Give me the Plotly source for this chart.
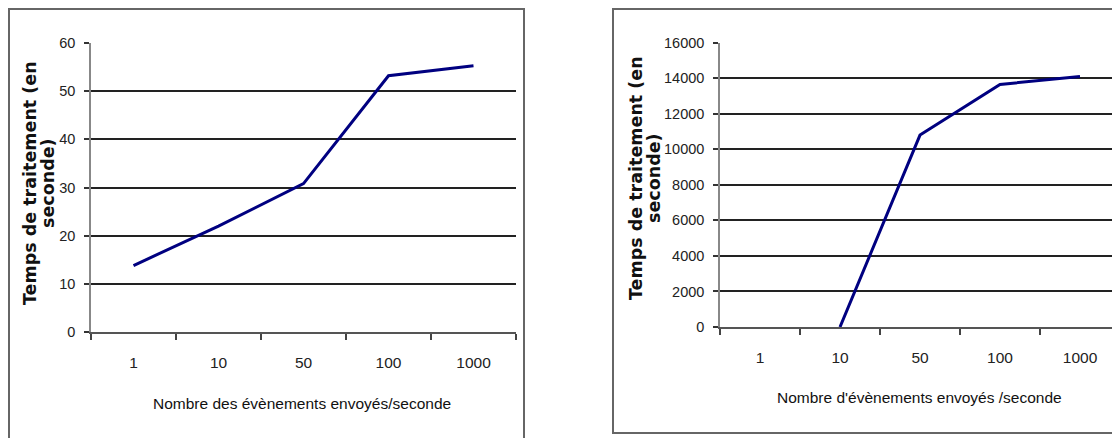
import plotly.graph_objects as go

# Catégories de l'axe X (nombre d'évènements par seconde)
categories = ["1", "10", "50", "100", "1000"]

# Temps de traitement (en seconde)
temps_gauche = [13.8, 22.0, 30.8, 53.2, 55.3]
temps_droite = [None, 0, 10800, 13650, 14100]

ticks_gauche = [0, 10, 20, 30, 40, 50, 60]
ticks_droite = [0, 2000, 4000, 6000, 8000, 10000, 12000, 14000, 16000]

titre_x_gauche = "Nombre des évènements envoyés/seconde"
titre_x_droite = "Nombre d'évènements envoyés /seconde"
titre_y = ["Temps de traitement (en", "seconde)"]

W, H = 1120, 438
# la page ajoute une marge de 8 px autour de la figure
DECALAGE = 8
POLICE = "Liberation Sans, Arial, sans-serif"
POLICE_TITRE = "DejaVu Sans, Arial, sans-serif"


def px_x(v):
    return (v - DECALAGE) / W


def px_y(v):
    return 1 - (v - DECALAGE) / H


def axe_x(domaine, ancre):
    return dict(
        domain=domaine,
        anchor=ancre,
        type="category",
        categoryorder="array",
        categoryarray=categories,
        range=[-0.5, 4.5],
        tickson="boundaries",
        ticks="outside",
        ticklen=6,
        tickwidth=1.5,
        tickcolor="#444",
        showline=True,
        linecolor="#555",
        linewidth=2,
        showgrid=False,
        zeroline=False,
        automargin=False,
        ticklabelstandoff=15,
        tickfont=dict(family=POLICE, size=15.5, color="#222"),
    )


def axe_y(domaine, ancre, valeurs):
    return dict(
        domain=domaine,
        anchor=ancre,
        range=[valeurs[0], valeurs[-1]],
        tickvals=valeurs,
        tickformat="d",
        ticks="outside",
        ticklen=5,
        tickwidth=1.5,
        tickcolor="#333",
        showline=True,
        linecolor="#888",
        linewidth=1.5,
        showgrid=False,
        zeroline=False,
        automargin=False,
        ticklabelstandoff=6,
        tickfont=dict(family=POLICE, size=14.5, color="#222"),
        minor=dict(
            tickvals=valeurs[1:-1],
            showgrid=True,
            gridcolor="#222",
            gridwidth=1.5,
            ticks="",
        ),
    )


def main():
    fig = go.Figure()

    fig.add_trace(
        go.Scatter(
            x=categories, y=temps_gauche, mode="lines",
            line=dict(color="#000080", width=3),
            xaxis="x", yaxis="y", showlegend=False,
        )
    )
    fig.add_trace(
        go.Scatter(
            x=categories, y=temps_droite, mode="lines",
            line=dict(color="#000080", width=3),
            xaxis="x2", yaxis="y2", showlegend=False, connectgaps=False,
        )
    )

    annotations = []
    # Titres des axes Y (deux lignes, texte vertical en gras)
    for cx, cy in [(30, 183), (636, 178)]:
        for i, ligne in enumerate(titre_y):
            annotations.append(dict(
                text="<b>" + ligne + "</b>", xref="paper", yref="paper",
                x=px_x(cx + i * 18), y=px_y(cy), textangle=-90,
                showarrow=False, xanchor="center", yanchor="middle",
                font=dict(family=POLICE_TITRE, size=17.5, color="#111"),
            ))
    # Titres des axes X
    for texte, cx, cy in [(titre_x_gauche, 302, 403), (titre_x_droite, 919, 397)]:
        annotations.append(dict(
            text=texte, xref="paper", yref="paper",
            x=px_x(cx), y=px_y(cy), showarrow=False,
            xanchor="center", yanchor="middle",
            font=dict(family=POLICE, size=15.5, color="#111"),
        ))

    # Cadres gris autour des deux graphiques
    cadre = dict(color="#666", width=2)
    shapes = [
        dict(type="rect", xref="paper", yref="paper",
             x0=px_x(9), x1=px_x(524), y0=-0.05, y1=px_y(9), line=cadre),
        dict(type="rect", xref="paper", yref="paper",
             x0=px_x(613), x1=1.05, y0=px_y(433), y1=px_y(9), line=cadre),
    ]

    fig.update_layout(
        width=W, height=H,
        margin=dict(l=0, r=0, t=0, b=0, pad=0),
        paper_bgcolor="white", plot_bgcolor="white",
        xaxis=axe_x([px_x(91), px_x(516)], "y"),
        yaxis=axe_y([px_y(332), px_y(43)], "x", ticks_gauche),
        xaxis2=axe_x([px_x(720), px_x(1120)], "y2"),
        yaxis2=axe_y([px_y(327), px_y(42.7)], "x2", ticks_droite),
        annotations=annotations,
        shapes=shapes,
    )

    fig.write_html("out.html")


if __name__ == "__main__":
    main()
